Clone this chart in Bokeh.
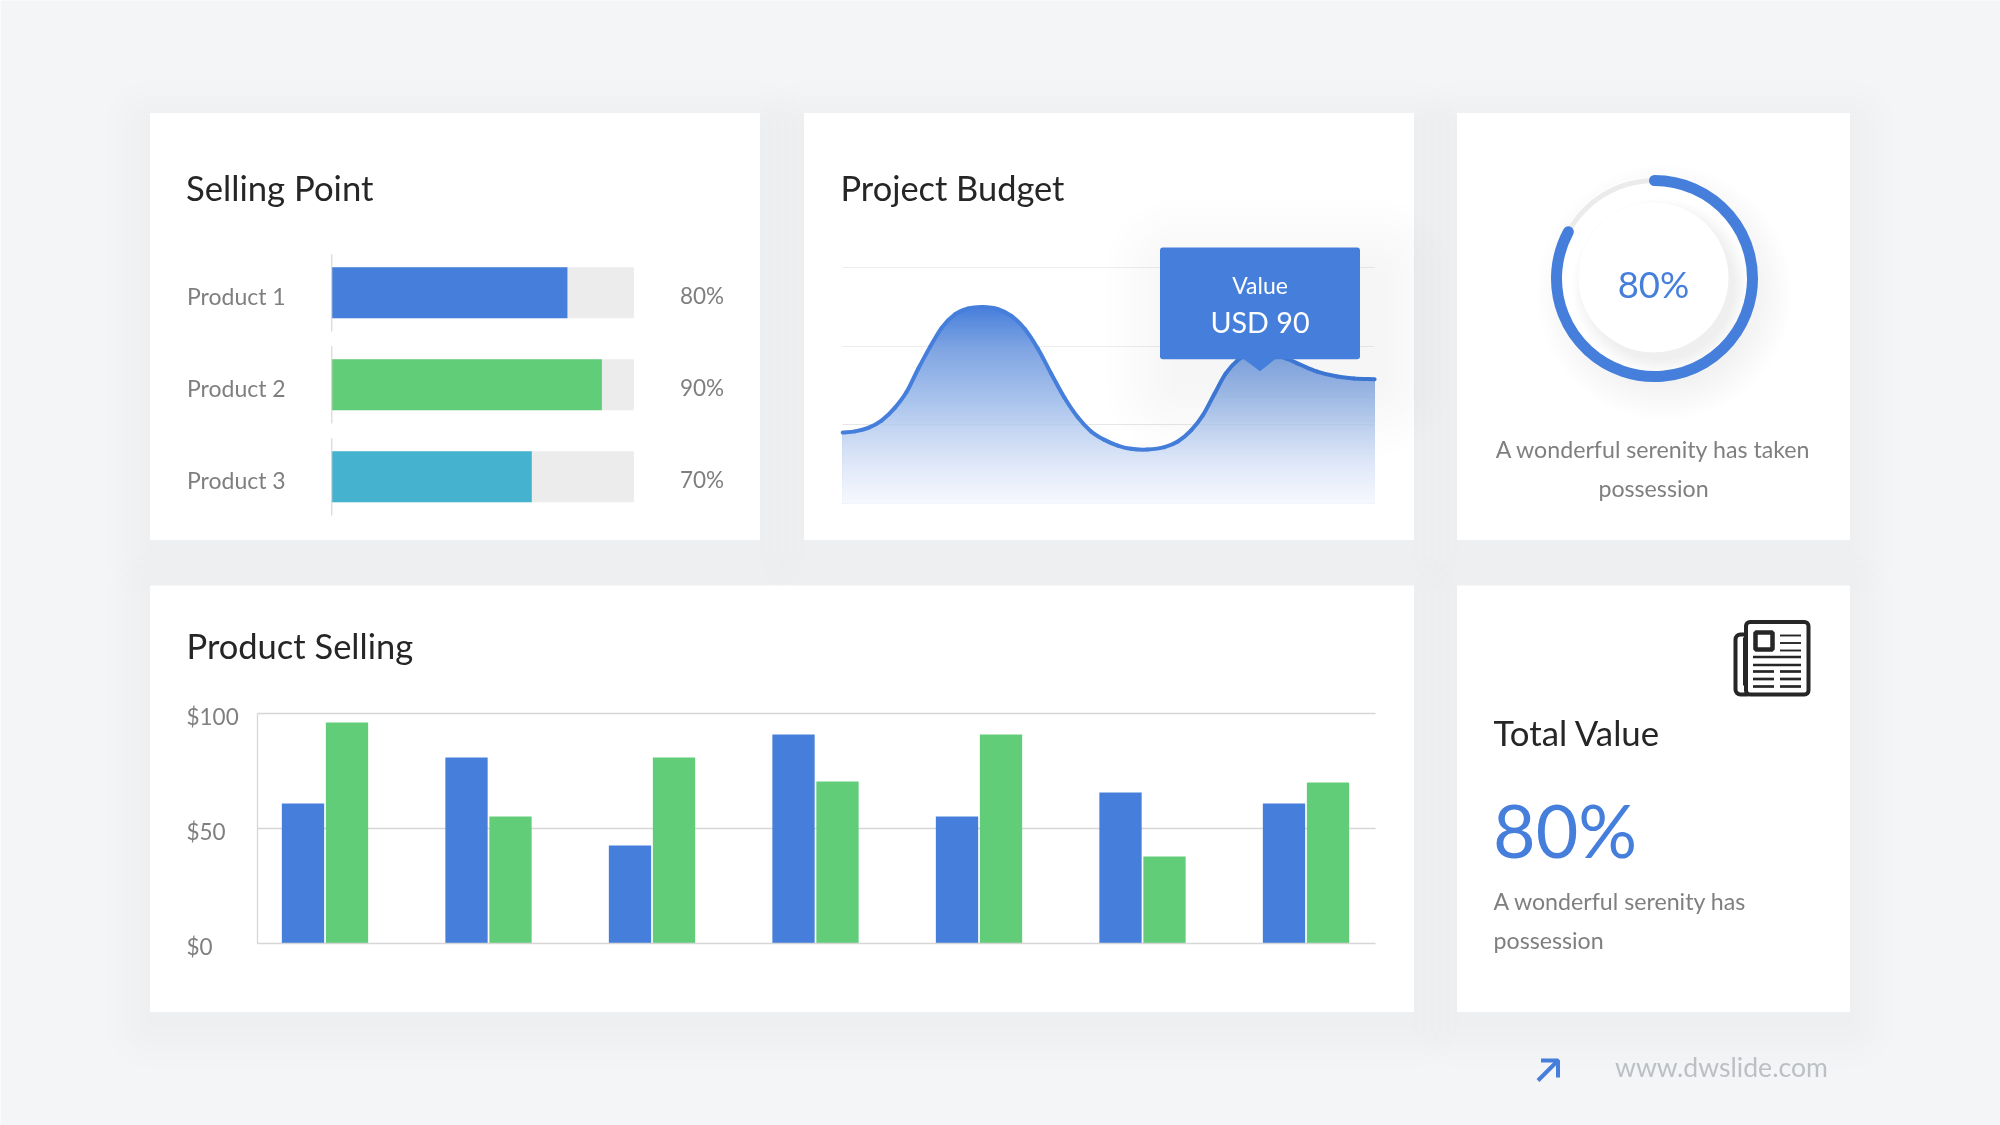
import numpy as np
from bokeh.core.properties import value
from bokeh.embed import file_html
from bokeh.resources import INLINE
from bokeh.plotting import figure
from bokeh.models import Range1d, LinearAxis, FixedTicker, Grid, NumeralTickFormatter

# ---------- data ----------
sell_categories = ["Product 1", "Product 2", "Product 3"]
sell_values = [78, 89.4, 66.2]
sell_track = [100, 100, 100]
sell_labels = ["80%", "90%", "70%"]

sales_index = [0, 1, 2, 3, 4, 5, 6]
sales_blue = [61, 81, 42.7, 91, 55.3, 65.8, 61]
sales_green = [96.2, 55.3, 81, 70.6, 91, 38, 70.1]
sales_ticks = [0, 50, 100]
sales_tick_labels = ["$0", "$50", "$100"]

budget_x = [0, 2.3, 4.8, 7.3, 9.8, 12, 14.2, 16.4, 18.6, 21.1, 23.6, 26.4, 29.2, 31.7, 34.2, 36.7, 39.2, 41.7,
            44.2, 46.7, 49.2, 51.7, 54.2, 57.3, 60.5, 63, 65.5, 67.7, 69.9, 72, 74.2, 77, 80, 83.6, 86.1, 89.2,
            93, 96.1, 100]
budget_y = [30, 30.5, 32, 35.1, 40.5, 47.2, 57.1, 66.3, 74.5, 80.2, 82.7, 83.3, 82.4, 79.6, 74.1, 65.6, 55, 44.8,
            36.5, 30.5, 26.9, 24.5, 23.1, 22.8, 23.8, 26.2, 30.9, 37.3, 46.5, 55, 60.6, 64, 64, 61.3, 58.8, 55.9,
            53.8, 53, 52.7]
budget_grid = [0, 33.3, 66.6, 100]

donut_value = 82.9
donut_label = "80%"

# ---------- colours ----------
BG = "#F4F5F7"
BLUE = "#457FDB"
GREEN = "#62CD79"
TEAL = "#45B3D0"
TRACK = "#ECECEC"
DARK = "#262626"
GREY = "#7F7F7F"
FONT = value("Lato")

W, H = 2000, 1125
SHIFT = 0.5
LIFT = 0.38  # baseline compensation, in em


def Y(py):
    return H - py


def map_x(a, px_a, b, px_b):
    px_a, px_b = px_a - SHIFT, px_b - SHIFT
    k = (b - a) / (px_b - px_a)
    return Range1d(start=a + (0 - px_a) * k, end=a + (W - px_a) * k)


def map_y(a, px_a, b, px_b):
    k = (b - a) / (px_b - px_a)
    return Range1d(start=a + (H - px_a) * k, end=a + (0 - px_a) * k)


p = figure(width=W, height=H, output_backend="svg", toolbar_location=None,
           x_range=Range1d(SHIFT, W + SHIFT), y_range=Range1d(0, H),
           x_axis_type=None, y_axis_type=None, min_border=0,
           background_fill_color=BG, border_fill_color=BG, outline_line_color=None)
p.styles = {"position": "fixed", "left": "0px", "top": "0px"}
p.grid.visible = False

S0, SD = 325.0, 163.5
p.extra_x_ranges = {
    "sell": map_x(0, 331.8, 100, 633.9),
    "sales": map_x(0, S0, 6, S0 + 6 * SD),
    "budget": map_x(0, 842.7, 100, 1374.6),
}
p.extra_y_ranges = {
    "sell": map_y(0, 292.3, 2, 476.3),
    "sales": map_y(0, 943.3, 100, 713.3),
    "budget": map_y(0, 502.7, 100, 267.3),
}


def text(x, py, s, size, color=DARK, align="left"):
    p.text(x=[x], y=[Y(py - LIFT * size)], text=[s], text_font=FONT, text_font_size=f"{size}px",
           text_color=color, text_align=align, text_baseline="alphabetic")


# ---------- cards with soft shadows ----------
cards = [(150, 760, 112.5, 539.5), (804, 1414, 112.5, 539.5), (1457, 1850, 112.5, 539.5),
         (150, 1414, 585, 1011.5), (1457, 1850, 585, 1011.5)]
for l, r, t, b in cards:
    for e in (44, 36, 28, 20, 12, 4):
        p.quad(left=[l - e], right=[r + e], top=[Y(t - e + 12)], bottom=[Y(b + e + 12)],
               fill_color="#000000", fill_alpha=0.0042, line_color=None, level="image",
               border_radius=e)
for l, r, t, b in cards:
    p.quad(left=[l], right=[r], top=[Y(t)], bottom=[Y(b)], fill_color="#FFFFFF",
           line_color=None, level="image")

# ---------- Selling Point ----------
text(186, 200, "Selling Point", 34.7)
sell_pos = [0, 1, 2]
p.hbar(y=sell_pos, left=0, right=sell_track, height=51 / 92, fill_color=TRACK, line_color=None,
       x_range_name="sell", y_range_name="sell")
p.hbar(y=sell_pos, left=0, right=sell_values, height=51 / 92, fill_color=[BLUE, GREEN, TEAL],
       line_color=None, x_range_name="sell", y_range_name="sell")
p.segment(x0=[0, 0, 0], x1=[0, 0, 0], y0=[i - 0.42 for i in sell_pos], y1=[i + 0.42 for i in sell_pos],
          line_color="#CFCFCF", line_width=1, x_range_name="sell", y_range_name="sell")
p.text(x=[187] * 3, y=sell_pos, text=sell_categories, text_font=FONT, text_font_size="23px",
       text_color=GREY, text_baseline="alphabetic", y_offset=2.9, y_range_name="sell")
p.text(x=[680] * 3, y=sell_pos, text=sell_labels, text_font=FONT, text_font_size="22.5px",
       text_color=GREY, text_baseline="alphabetic", y_offset=2.9, y_range_name="sell")

# ---------- Project Budget ----------
text(840.5, 200, "Project Budget", 34.4)
p.add_layout(Grid(dimension=1, ticker=FixedTicker(ticks=budget_grid), grid_line_color="#EDEDED",
                  grid_line_width=1, x_range_name="budget", y_range_name="budget",
                  cross_bounds=(0, 100)), "center")
# the smooth line is drawn as Bezier spans through the points
kx = np.array(budget_x, float)
ky = np.array(budget_y, float)
slope = np.gradient(ky, kx)
dx = np.diff(kx)
cx0 = kx[:-1] + dx / 3
cy0 = ky[:-1] + slope[:-1] * dx / 3
cx1 = kx[1:] - dx / 3
cy1 = ky[1:] - slope[1:] * dx / 3

# fill below the line, painted in bands for the vertical gradient
t = np.linspace(0, 1, 14)[:, None]
bx = ((1 - t) ** 3 * kx[:-1] + 3 * (1 - t) ** 2 * t * cx0 + 3 * (1 - t) * t ** 2 * cx1 + t ** 3 * kx[1:]).ravel(order="F")
by = ((1 - t) ** 3 * ky[:-1] + 3 * (1 - t) ** 2 * t * cy0 + 3 * (1 - t) * t ** 2 * cy1 + t ** 3 * ky[1:]).ravel(order="F")
stops_v = [0, 15, 30, 44, 66, 84]
stops_c = np.array([[0xF7, 0xF9, 0xFE], [0xE2, 0xEA, 0xF9], [0xC7, 0xD8, 0xF3],
                    [0xA9, 0xC3, 0xEC], [0x7F, 0xA5, 0xE3], [0x47, 0x7E, 0xDB]], float)
for lv in np.arange(85, 0, -1.0):
    rgb = [int(round(np.interp(lv, stops_v, stops_c[:, i]))) for i in range(3)]
    p.varea(x=bx, y1=np.zeros_like(bx), y2=np.minimum(by, lv), fill_color="#%02X%02X%02X" % tuple(rgb),
            x_range_name="budget", y_range_name="budget")
p.segment(x0=[0], x1=[100], y0=budget_grid[1:2], y1=budget_grid[1:2], line_color="#000000", line_alpha=0.035,
          line_width=1, x_range_name="budget", y_range_name="budget")
p.bezier(x0=kx[:-1], y0=ky[:-1], x1=kx[1:], y1=ky[1:], cx0=cx0, cy0=cy0, cx1=cx1, cy1=cy1,
         line_color=BLUE, line_width=4, line_cap="round", x_range_name="budget", y_range_name="budget")
# tooltip
tl, tr, tt, tb = 1160, 1360, 247, 358.7
for e in range(72, 0, -8):
    p.quad(left=[tl - e + 18], right=[tr + e + 18], top=[Y(tt - e + 24)], bottom=[Y(tb + e + 24)],
           fill_color="#000000", fill_alpha=0.0024, line_color=None, border_radius=e)
p.patch(x=[1243, 1276, 1260], y=[Y(358), Y(358), Y(370.7)], fill_color=BLUE, line_color=None)
p.quad(left=[tl], right=[tr], top=[Y(tt)], bottom=[Y(tb)], fill_color=BLUE, line_color=None, border_radius=3)
text(1260, 293, "Value", 23, "#FFFFFF", "center")
text(1260, 332, "USD 90", 28.7, "#FFFFFF", "center")

# ---------- donut ----------
cx, cy = 1654.5, 278
for r in range(128, 90, -3):
    p.circle(x=[cx + 10], y=[Y(cy + 14)], radius=r, fill_color="#000000", fill_alpha=0.0035, line_color=None)
p.circle(x=[cx], y=[Y(cy)], radius=100, fill_color="#FFFFFF", line_color=None)
for r in range(88, 72, -2):
    p.circle(x=[cx + 6], y=[Y(cy + 8)], radius=r, fill_color="#000000", fill_alpha=0.0065, line_color=None)
p.circle(x=[cx], y=[Y(cy)], radius=100, fill_color=None, line_color="#FFFFFF", line_width=3)
p.circle(x=[cx - 1], y=[Y(cy - 1)], radius=75, fill_color="#FFFFFF", line_color=None)
p.circle(x=[cx], y=[Y(cy)], radius=98, fill_color=None, line_color="#EBEBEB", line_width=5)
a0 = np.pi / 2
a1 = a0 - donut_value / 100 * 2 * np.pi
p.arc(x=[cx], y=[Y(cy)], radius=98, start_angle=a0, end_angle=a1, direction="clock",
      line_color=BLUE, line_width=11, line_cap="round")
text(cx - 1, 297, donut_label, 36.5, BLUE, "center")
text(cx - 1, 457, "A wonderful serenity has taken", 23.2, GREY, "center")
text(cx - 1, 496, "possession", 23.2, GREY, "center")

# ---------- Product Selling ----------
text(186.5, 658, "Product Selling", 34.5)
XB = ((257.5 - S0) / SD, (1375 - S0) / SD)
p.add_layout(Grid(dimension=1, ticker=FixedTicker(ticks=[50, 100]), grid_line_color="#D6D6D6",
                  grid_line_width=1.3, x_range_name="sales", y_range_name="sales",
                  cross_bounds=XB), "center")
bw = 42.3 / SD
off = 22 / SD
p.vbar(x=[i - off for i in sales_index], bottom=0, top=sales_blue, width=bw, fill_color=BLUE, line_color=None,
       x_range_name="sales", y_range_name="sales")
p.vbar(x=[i + off for i in sales_index], bottom=0, top=sales_green, width=bw, fill_color=GREEN, line_color=None,
       x_range_name="sales", y_range_name="sales")
yaxis = LinearAxis(y_range_name="sales", fixed_location=257.5, bounds=(0, 100),
                   ticker=FixedTicker(ticks=sales_ticks), formatter=NumeralTickFormatter(format="$0"),
                   major_tick_line_color=None, minor_tick_line_color=None, axis_line_color="#D6D6D6",
                   axis_line_width=1.3, major_label_text_color=None, major_label_text_font="Lato",
                   major_label_text_font_size="22px")
p.add_layout(yaxis, "left")
xaxis = LinearAxis(x_range_name="sales", fixed_location=Y(943.3), bounds=XB,
                   ticker=FixedTicker(ticks=[]), major_tick_line_color=None, minor_tick_line_color=None,
                   axis_line_color="#D6D6D6", axis_line_width=1.3)
p.add_layout(xaxis, "below")
p.text(x=[186.5] * 3, y=sales_ticks, text=sales_tick_labels, text_font=FONT, text_font_size="22.5px",
       text_color=GREY, text_baseline="alphabetic", y_offset=2.6, y_range_name="sales")

# ---------- Total Value ----------
text(1493.5, 745.7, "Total Value", 34.8)
text(1493, 856.5, "80%", 73.5, BLUE)
text(1493.5, 909, "A wonderful serenity has", 23.2, GREY)
text(1493.5, 948, "possession", 23.2, GREY)

# newspaper icon
INK = "#262626"
p.quad(left=[1735.5], right=[1752], top=[Y(634)], bottom=[Y(694)], fill_color="#FFFFFF", line_color=INK,
       line_width=4, border_radius=5)
p.quad(left=[1746], right=[1808.5], top=[Y(621.5)], bottom=[Y(694)], fill_color="#FFFFFF", line_color=INK,
       line_width=4, border_radius=4)
p.segment(x0=[1745], x1=[1745], y0=[Y(637)], y1=[Y(685)], line_color=INK, line_width=4)
p.quad(left=[1755.5], right=[1772.5], top=[Y(632)], bottom=[Y(649)], fill_color="#FFFFFF", line_color=INK,
       line_width=4.5)
thin = [(1780, 1801, 635), (1780, 1801, 642.5), (1780, 1801, 650)]
mid = [(1753, 1801, 656.5), (1753, 1801, 664.5)]
half = [(1753, 1774, 671), (1780, 1801, 671), (1753, 1774, 678.5), (1780, 1801, 678.5),
        (1753, 1774, 686), (1780, 1801, 686)]
for group, lw in ((thin, 1.9), (mid, 2.5), (half, 2.7)):
    p.segment(x0=[g[0] for g in group], x1=[g[1] for g in group], y0=[Y(g[2]) for g in group],
              y1=[Y(g[2]) for g in group], line_color=INK, line_width=lw)

# footer
p.multi_line(xs=[[1538, 1558], [1541, 1558, 1558]], ys=[[Y(1080), Y(1060)], [Y(1060), Y(1060), Y(1077)]],
             line_color=BLUE, line_width=4)
text(1615, 1077, "www.dwslide.com", 26.6, "#BCBFC4")

open("out.html", "w").write(file_html(p, INLINE))
